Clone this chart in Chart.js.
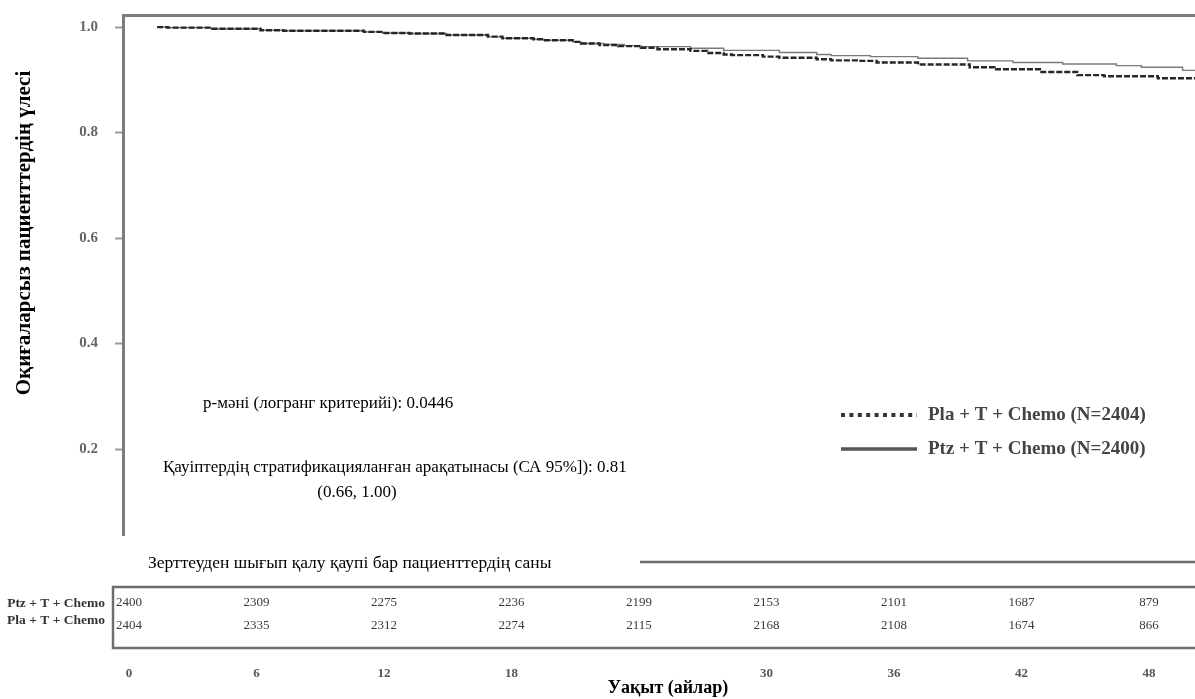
<!DOCTYPE html>
<html>
<head>
<meta charset="utf-8">
<script src="https://cdn.jsdelivr.net/npm/chart.js@4.4.1/dist/chart.umd.min.js"></script>
<style>
  html, body { margin: 0; padding: 0; background: #fff; }
  #wrap { position: relative; width: 1195px; height: 699px; }
  .box { position: absolute; left: 0; width: 1195px; }
</style>
</head>
<body>
<div id="wrap">
  <div class="box" style="top:0;height:545px"><canvas id="km"></canvas></div>
  <div class="box" style="top:540px;height:159px"><canvas id="risk"></canvas></div>
</div>
<script>
// Kaplan-Meier curves, months / proportion without event
const plaTimes = [0, 0.5, 2.6, 5.0, 6.1, 10.0, 10.9, 12.2, 14.0, 16.0, 16.7, 18.2, 18.7, 20.1, 20.5, 21.4, 22.3, 23.4, 24.2, 25.8, 26.6, 27.4, 27.8, 29.3, 30.1, 31.9, 32.6, 33.9, 34.8, 36.8, 39.3, 40.5, 42.7, 44.5, 45.8, 48.4, 50.2];
const plaSurv  = [1.000, 0.999, 0.997, 0.994, 0.993, 0.991, 0.989, 0.988, 0.985, 0.982, 0.979, 0.977, 0.975, 0.972, 0.969, 0.966, 0.964, 0.961, 0.958, 0.955, 0.951, 0.948, 0.947, 0.944, 0.942, 0.939, 0.937, 0.936, 0.933, 0.929, 0.924, 0.920, 0.915, 0.909, 0.907, 0.903, 0.901];
const ptzTimes = [0, 0.5, 2.6, 5.0, 6.1, 10.0, 10.9, 12.2, 14.0, 16.0, 16.7, 18.2, 18.7, 20.1, 20.5, 21.6, 22.6, 23.4, 25.8, 27.4, 30.1, 31.9, 32.6, 34.5, 36.8, 39.2, 41.4, 43.8, 46.4, 47.6, 49.6, 50.2];
const ptzSurv  = [1.000, 0.999, 0.997, 0.994, 0.993, 0.991, 0.989, 0.988, 0.985, 0.982, 0.979, 0.977, 0.975, 0.972, 0.969, 0.967, 0.965, 0.963, 0.960, 0.956, 0.952, 0.948, 0.946, 0.944, 0.941, 0.936, 0.933, 0.930, 0.927, 0.924, 0.918, 0.918];

const yTickValues = [0.2, 0.4, 0.6, 0.8, 1.0];
const yTickLabels = ['0.2', '0.4', '0.6', '0.8', '1.0'];

// number at risk table
const riskTimes  = [0, 6, 12, 18, 24, 30, 36, 42, 48];
const timeLabels = ['0', '6', '12', '18', '', '30', '36', '42', '48'];
const ptzAtRisk  = [2400, 2309, 2275, 2236, 2199, 2153, 2101, 1687, 879];
const plaAtRisk  = [2404, 2335, 2312, 2274, 2115, 2168, 2108, 1674, 866];

const SERIF = "'Liberation Serif', 'Times New Roman', serif";

const toXY = (ts, ss) => ts.map((t, i) => ({ x: t, y: ss[i] }));

const kmText = {
    id: 'kmText',
    afterDraw(chart) {
        const ctx = chart.ctx;
        ctx.save();
        // y axis title
        ctx.save();
        ctx.translate(25, 233);
        ctx.rotate(-Math.PI / 2);
        ctx.font = "bold 21px " + SERIF;
        ctx.fillStyle = '#000';
        ctx.textAlign = 'center';
        ctx.textBaseline = 'middle';
        ctx.fillText('Оқиғаларсыз пациенттердің үлесі', 0, 0);
        ctx.restore();

        // statistics
        ctx.font = "17px " + SERIF;
        ctx.fillStyle = '#000';
        ctx.textBaseline = 'middle';
        ctx.textAlign = 'left';
        ctx.fillText('р-мәні (логранг критерийі): 0.0446', 203, 404);
        ctx.fillText('Қауіптердің стратификацияланған арақатынасы (СА 95%]): 0.81', 163, 468);
        ctx.textAlign = 'center';
        ctx.fillText('(0.66, 1.00)', 357, 493);

        // legend
        const items = [
            { ds: chart.data.datasets[0], y: 415, dash: [4, 4.4], w: 4 },
            { ds: chart.data.datasets[1], y: 449, dash: [], w: 3.5 }
        ];
        items.forEach(it => {
            ctx.beginPath();
            ctx.setLineDash(it.dash);
            ctx.lineWidth = it.w;
            ctx.strokeStyle = it.ds.legendColor;
            ctx.moveTo(841, it.y);
            ctx.lineTo(917, it.y);
            ctx.stroke();
            ctx.setLineDash([]);
            ctx.font = "bold 19px " + SERIF;
            ctx.fillStyle = '#444';
            ctx.textAlign = 'left';
            ctx.fillText(it.ds.label, 928, it.y);
        });
        ctx.restore();
    }
};

new Chart(document.getElementById('km'), {
    type: 'scatter',
    data: {
        datasets: [
            {
                label: 'Pla + T + Chemo (N=2404)',
                data: toXY(plaTimes, plaSurv),
                showLine: true,
                stepped: 'before',
                borderColor: '#262626',
                legendColor: '#333',
                borderWidth: 2.4,
                borderDash: [6, 2],
                pointRadius: 0
            },
            {
                label: 'Ptz + T + Chemo (N=2400)',
                data: toXY(ptzTimes, ptzSurv),
                showLine: true,
                stepped: 'before',
                borderColor: '#7a7a7a',
                legendColor: '#555',
                borderWidth: 1.4,
                pointRadius: 0
            }
        ]
    },
    options: {
        responsive: true,
        maintainAspectRatio: false,
        animation: false,
        layout: { padding: { top: 15, bottom: 10, left: 0, right: 0 } },
        plugins: {
            legend: { display: false },
            tooltip: { enabled: false }
        },
        scales: {
            x: {
                type: 'linear',
                position: 'top',
                min: -1.65,
                max: 50.2,
                afterFit: s => { s.height = 0; s.paddingLeft = 0; s.paddingRight = 0; },
                ticks: { display: false },
                grid: { display: false },
                border: { display: true, color: '#7c7c7c', width: 3 }
            },
            y: {
                min: 0.037,
                max: 1.023,
                afterFit: s => { s.width = 123; s.paddingTop = 0; s.paddingBottom = 0; },
                afterBuildTicks: s => { s.ticks = yTickValues.map(v => ({ value: v })); },
                ticks: {
                    padding: 17,
                    color: '#666',
                    font: { family: SERIF, size: 15, weight: 'bold' },
                    callback: (v, i) => yTickLabels[i]
                },
                grid: {
                    drawOnChartArea: false,
                    drawTicks: true,
                    tickLength: 8,
                    tickColor: '#9a9a9a',
                    tickWidth: 2
                },
                border: { display: true, color: '#7c7c7c', width: 3 }
            }
        }
    },
    plugins: [kmText]
});

const riskTable = {
    id: 'riskTable',
    afterDraw(chart) {
        const ctx = chart.ctx;
        const x = chart.scales.x;
        ctx.save();
        ctx.font = "17.5px " + SERIF;
        ctx.fillStyle = '#000';
        ctx.textAlign = 'left';
        ctx.textBaseline = 'middle';
        ctx.fillText('Зерттеуден шығып қалу қаупі бар пациенттердің саны', 148, 23);

        ctx.strokeStyle = '#6e6e6e';
        ctx.lineWidth = 2.5;
        ctx.beginPath();
        ctx.moveTo(640, 22); ctx.lineTo(1195, 22);
        ctx.moveTo(1195, 47); ctx.lineTo(113, 47); ctx.lineTo(113, 108); ctx.lineTo(1195, 108);
        ctx.stroke();

        ctx.font = "bold 13.5px " + SERIF;
        ctx.fillStyle = '#333';
        ctx.textAlign = 'right';
        ctx.fillText('Ptz + T + Chemo', 105, 64);
        ctx.fillText('Pla + T + Chemo', 105, 81);

        ctx.font = "13px " + SERIF;
        ctx.fillStyle = '#3a3a3a';
        ctx.textAlign = 'center';
        riskTimes.forEach((t, i) => {
            const px = x.getPixelForValue(t);
            ctx.fillText(String(ptzAtRisk[i]), px, 63);
            ctx.fillText(String(plaAtRisk[i]), px, 86);
        });

        ctx.font = "bold 18px " + SERIF;
        ctx.fillStyle = '#000';
        ctx.fillText('Уақыт (айлар)', 668, 148);
        ctx.restore();
    }
};

new Chart(document.getElementById('risk'), {
    type: 'scatter',
    data: { datasets: [] },
    options: {
        responsive: true,
        maintainAspectRatio: false,
        animation: false,
        layout: { padding: 0 },
        plugins: {
            legend: { display: false },
            tooltip: { enabled: false }
        },
        scales: {
            x: {
                type: 'linear',
                min: -6.07,
                max: 50.17,
                afterFit: s => { s.height = 39; s.paddingLeft = 0; s.paddingRight = 0; },
                afterBuildTicks: s => { s.ticks = riskTimes.map(v => ({ value: v })); },
                ticks: {
                    padding: 6,
                    color: '#555',
                    maxRotation: 0,
                    autoSkip: false,
                    font: { family: SERIF, size: 13, weight: 'bold' },
                    callback: (v, i) => timeLabels[i]
                },
                grid: { display: false, drawTicks: false },
                border: { display: false }
            },
            y: { display: false, min: 0, max: 1 }
        }
    },
    plugins: [riskTable]
});
</script>
</body>
</html>
